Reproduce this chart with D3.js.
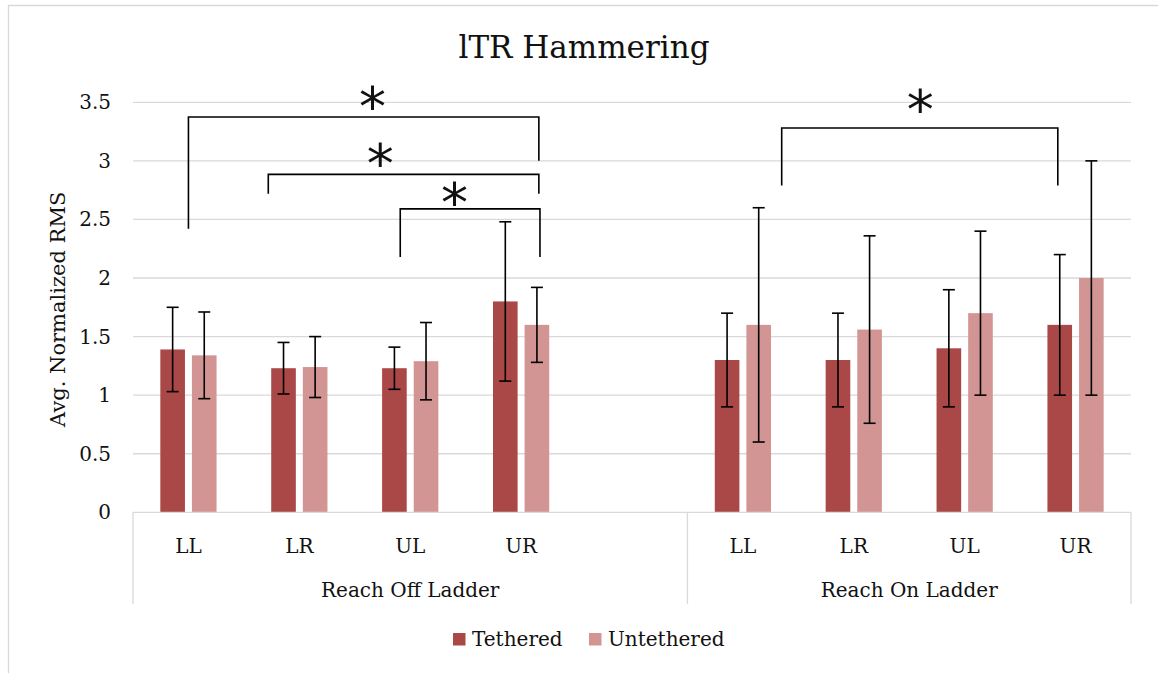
<!DOCTYPE html>
<html>
<head>
<meta charset="utf-8">
<script src="https://cdn.jsdelivr.net/npm/d3@7"></script>
<style>
  body { margin: 0; background: #fff; }
  svg text { font-family: 'DejaVu Serif', 'Liberation Serif', serif; fill: #111; }
</style>
</head>
<body>
<div id="chart"></div>
<script>
// slots: 'Reach Off Ladder' has an empty 5th slot, like the source
const groups = ['Reach Off Ladder', 'Reach On Ladder']
const slots = ['off-LL', 'off-LR', 'off-UL', 'off-UR', 'off-gap', 'on-LL', 'on-LR', 'on-UL', 'on-UR']
const slotLabels = ['LL', 'LR', 'UL', 'UR', '', 'LL', 'LR', 'UL', 'UR']
const groupSlots = [[0, 5], [5, 9]]
const series = ['Tethered', 'Untethered']
const colors = ['#a94846', '#d39594']

const tethered = [1.39, 1.23, 1.23, 1.80, null, 1.30, 1.30, 1.40, 1.60]
const tetheredErr = [0.36, 0.22, 0.18, 0.68, null, 0.40, 0.40, 0.50, 0.60]
const untethered = [1.34, 1.24, 1.29, 1.60, null, 1.60, 1.56, 1.70, 2.00]
const untetheredErr = [0.37, 0.26, 0.33, 0.32, null, 1.00, 0.80, 0.70, 1.00]

const yTicks = [0, 0.5, 1, 1.5, 2, 2.5, 3, 3.5]

// significance brackets: x in slot units, y in data units
const brackets = [
  { x1: 0.50, x2: 3.66, y: 3.375, leg1: 2.42, leg2: 3.0, starX: 2.16, starY: 3.54 },
  { x1: 1.22, x2: 3.66, y: 2.885, leg1: 2.72, leg2: 2.72, starX: 2.23, starY: 3.05 },
  { x1: 2.41, x2: 3.67, y: 2.59, leg1: 2.18, leg2: 2.18, starX: 2.9, starY: 2.715 },
  { x1: 5.85, x2: 8.34, y: 3.28, leg1: 2.79, leg2: 2.79, starX: 7.1, starY: 3.51 }
]

const width = 1158, height = 673
const plotLeft = 133, plotRight = 1131, plotTop = 102.3, plotBottom = 512.3

const svg = d3.select('#chart').append('svg')
  .attr('width', width)
  .attr('height', height)

// frame (only left & top are visible in the crop)
svg.append('path')
  .attr('d', `M8.5,${height + 2}V5.5H${width + 2}`)
  .attr('fill', 'none')
  .attr('stroke', '#d9d9d9')
  .attr('stroke-width', 1.3)

const y = d3.scaleLinear().domain([0, 3.5]).range([plotBottom, plotTop])
const x = d3.scaleBand().domain(slots).range([plotLeft, plotRight])
const xs = d3.scaleLinear().domain([0, slots.length]).range([plotLeft, plotRight])
const barW = x.bandwidth() * 0.222
const gap = 7

// gridlines
svg.append('g')
  .selectAll('line')
  .data(yTicks.filter(d => d > 0))
  .join('line')
    .attr('x1', plotLeft).attr('x2', plotRight)
    .attr('y1', d => y(d)).attr('y2', d => y(d))
    .attr('stroke', '#d9d9d9')
    .attr('stroke-width', 1.3)

// y tick labels
svg.append('g')
  .selectAll('text')
  .data(yTicks)
  .join('text')
    .attr('x', 111)
    .attr('y', d => y(d) + 7)
    .attr('text-anchor', 'end')
    .style('font-size', '20px')
    .text(d => d)

svg.append('text')
  .attr('transform', `translate(65,${(plotTop + plotBottom) / 2 + 2}) rotate(-90)`)
  .attr('text-anchor', 'middle')
  .style('font-size', '21px')
  .text('Avg. Normalized RMS')

// title
svg.append('text')
  .attr('x', 584)
  .attr('y', 58)
  .attr('text-anchor', 'middle')
  .style('font-size', '31px')
  .text('lTR Hammering')

// bars
const values = [tethered, untethered]
const errs = [tetheredErr, untetheredErr]
series.forEach((s, si) => {
  const offset = si === 0 ? -(barW + gap) / 2 : (barW + gap) / 2
  const rows = slots.map((k, i) => ({ k, v: values[si][i], e: errs[si][i] }))
    .filter(d => d.v != null)
  const cx = d => x(d.k) + x.bandwidth() / 2 + offset

  svg.append('g')
    .selectAll('rect')
    .data(rows)
    .join('rect')
      .attr('x', d => cx(d) - barW / 2)
      .attr('y', d => y(d.v))
      .attr('width', barW)
      .attr('height', d => y(0) - y(d.v))
      .attr('fill', colors[si])

  const eb = svg.append('g')
    .attr('stroke', '#000')
    .attr('stroke-width', 1.6)
  eb.selectAll('line.v')
    .data(rows)
    .join('line')
      .attr('class', 'v')
      .attr('x1', cx).attr('x2', cx)
      .attr('y1', d => y(d.v + d.e)).attr('y2', d => y(d.v - d.e))
  eb.selectAll('line.cap')
    .data(rows.flatMap(d => [d.v + d.e, d.v - d.e].map(t => ({ ...d, t }))))
    .join('line')
      .attr('class', 'cap')
      .attr('x1', d => cx(d) - 6).attr('x2', d => cx(d) + 6)
      .attr('y1', d => y(d.t)).attr('y2', d => y(d.t))
})

// category axis
const axisG = svg.append('g')
  .attr('stroke', '#d9d9d9')
  .attr('stroke-width', 1.3)
axisG.append('line')
  .attr('x1', plotLeft).attr('x2', plotRight)
  .attr('y1', plotBottom).attr('y2', plotBottom)
axisG.selectAll('line.sep')
  .data([0, 5, 9])
  .join('line')
    .attr('class', 'sep')
    .attr('x1', d => xs(d)).attr('x2', d => xs(d))
    .attr('y1', plotBottom).attr('y2', 604)

svg.append('g')
  .selectAll('text')
  .data(slots.map((k, i) => ({ k, label: slotLabels[i] })).filter(d => d.label))
  .join('text')
    .attr('x', d => x(d.k) + x.bandwidth() / 2)
    .attr('y', 553)
    .attr('text-anchor', 'middle')
    .style('font-size', '20px')
    .text(d => d.label)

svg.append('g')
  .selectAll('text')
  .data(groups)
  .join('text')
    .attr('x', (d, i) => (xs(groupSlots[i][0]) + xs(groupSlots[i][1])) / 2)
    .attr('y', 597)
    .attr('text-anchor', 'middle')
    .style('font-size', '20px')
    .text(d => d)

// significance brackets
const bg = svg.append('g')
bg.selectAll('path')
  .data(brackets)
  .join('path')
    .attr('d', d => `M${xs(d.x1)},${y(d.leg1)}V${y(d.y)}H${xs(d.x2)}V${y(d.leg2)}`)
    .attr('fill', 'none')
    .attr('stroke', '#000')
    .attr('stroke-width', 1.6)
bg.selectAll('text')
  .data(brackets)
  .join('text')
    .attr('x', d => xs(d.starX))
    .attr('y', d => y(d.starY) + 27)
    .attr('text-anchor', 'middle')
    .style('font-family', "'DejaVu Sans', sans-serif")
    .style('font-size', '54px')
    .text('*')

// legend
const legend = svg.append('g')
const legendX = [453, 589]
series.forEach((s, i) => {
  legend.append('rect')
    .attr('x', legendX[i]).attr('y', 633)
    .attr('width', 12.5).attr('height', 12.5)
    .attr('fill', colors[i])
  legend.append('text')
    .attr('x', legendX[i] + 19)
    .attr('y', 646)
    .style('font-size', '20px')
    .text(s)
})
</script>
</body>
</html>
